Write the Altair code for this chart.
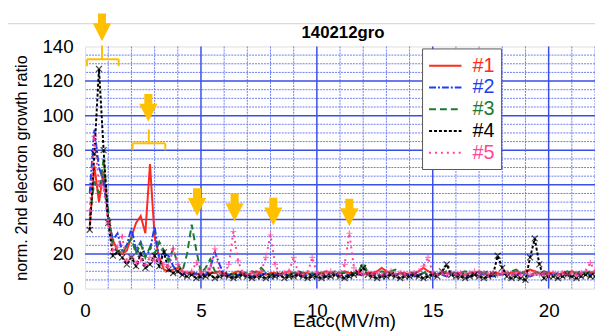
import altair as alt
import pandas as pd

# ---------------- data ----------------
EACC = [0.2, 0.4, 0.6, 0.8, 1.0, 1.2, 1.4, 1.6, 1.8, 2.0,
        2.2, 2.4, 2.6, 2.8, 3.0, 3.2, 3.4, 3.6, 3.8, 4.0,
        4.2, 4.4, 4.6, 4.8, 5.0, 5.2, 5.4, 5.6, 5.8, 6.0,
        6.2, 6.4, 6.6, 6.8, 7.0, 7.2, 7.4, 7.6, 7.8, 8.0,
        8.2, 8.4, 8.6, 8.8, 9.0, 9.2, 9.4, 9.6, 9.8, 10.0,
        10.2, 10.4, 10.6, 10.8, 11.0, 11.2, 11.4, 11.6, 11.8, 12.0,
        12.2, 12.4, 12.6, 12.8, 13.0, 13.2, 13.4, 13.6, 13.8, 14.0,
        14.2, 14.4, 14.6, 14.8, 15.0, 15.2, 15.4, 15.6, 15.8, 16.0,
        16.2, 16.4, 16.6, 16.8, 17.0, 17.2, 17.4, 17.6, 17.8, 18.0,
        18.2, 18.4, 18.6, 18.8, 19.0, 19.2, 19.4, 19.6, 19.8, 20.0,
        20.2, 20.4, 20.6, 20.8, 21.0, 21.2, 21.4, 21.6, 21.8, 22.0]

S1 = [36, 71, 50, 68, 40, 28, 22, 20, 22, 30,
      38, 42, 32, 72, 30, 18, 11, 10, 11, 12,
      10, 9, 9, 8, 9, 8, 9, 9, 10, 9,
      8, 9, 10, 9, 8, 9, 10, 9, 8, 9,
      9, 8, 9, 10, 9, 8, 9, 9, 8, 9,
      9, 10, 9, 8, 9, 10, 9, 9, 10, 8,
      9, 9, 10, 12, 10, 9, 8, 9, 9, 8,
      9, 10, 12, 10, 9, 8, 9, 9, 8, 9,
      9, 8, 9, 9, 10, 9, 8, 9, 9, 8,
      9, 9, 10, 9, 10, 11, 10, 9, 8, 9,
      9, 8, 9, 9, 10, 9, 8, 9, 9, 10]

S2 = [55, 92, 70, 62, 40, 28, 32, 22, 25, 35,
      22, 27, 19, 22, 36, 17, 20, 19, 13, 10,
      8, 9, 8, 9, 7, 8, 12, 21, 14, 8,
      8, 7, 8, 9, 8, 7, 8, 8, 9, 8,
      8, 7, 8, 8, 9, 8, 7, 8, 8, 9,
      8, 7, 9, 8, 8, 7, 8, 9, 8, 8,
      9, 8, 8, 7, 9, 8, 8, 9, 8, 8,
      7, 8, 9, 8, 8, 9, 8, 7, 8, 9,
      8, 8, 7, 8, 9, 8, 8, 7, 8, 8,
      9, 8, 8, 9, 8, 7, 8, 8, 9, 8,
      8, 9, 8, 8, 7, 8, 9, 8, 8, 9]

S3 = [42, 62, 55, 75, 45, 24, 22, 20, 25, 29,
      20, 26, 18, 24, 20, 27, 22, 16, 23, 14,
      10, 20, 37, 22, 9, 12, 17, 10, 9, 8,
      9, 8, 9, 8, 9, 10, 9, 12, 9, 8,
      9, 8, 9, 8, 9, 10, 9, 8, 9, 8,
      9, 8, 9, 10, 9, 9, 8, 9, 10, 15,
      9, 8, 9, 10, 9, 10, 11, 9, 8, 9,
      9, 8, 9, 10, 9, 8, 9, 10, 9, 8,
      9, 10, 9, 8, 9, 9, 10, 9, 8, 9,
      9, 10, 11, 9, 9, 8, 9, 9, 10, 9,
      9, 8, 9, 10, 9, 9, 10, 9, 10, 9]

S4 = [34, 78, 127, 80, 38, 19, 21, 18, 14, 18,
      13, 20, 12, 14, 19, 13, 21, 11, 9, 10,
      8, 7, 8, 6, 7, 7, 8, 6, 7, 8,
      7, 6, 7, 8, 7, 6, 7, 7, 6, 7,
      7, 8, 6, 7, 7, 8, 7, 6, 7, 7,
      6, 7, 7, 8, 7, 6, 7, 8, 9, 12,
      8, 7, 6, 7, 7, 8, 7, 6, 7, 7,
      8, 7, 6, 7, 8, 7, 10, 14, 8, 7,
      7, 6, 7, 8, 7, 6, 7, 8, 19, 12,
      7, 6, 7, 6, 5, 18, 29, 14, 6, 7,
      7, 6, 7, 8, 7, 6, 7, 8, 7, 7]

S5 = [45, 88, 60, 58, 38, 22, 24, 30, 16, 19,
      15, 17, 14, 18, 16, 17, 14, 13, 23, 14,
      10, 9, 10, 15, 9, 10, 12, 23, 9, 8,
      14, 33, 16, 9, 8, 9, 8, 10, 18, 31,
      14, 8, 9, 10, 18, 9, 8, 9, 18, 9,
      8, 9, 10, 9, 8, 14, 32, 12, 9, 8,
      9, 8, 9, 8, 9, 10, 8, 9, 8, 9,
      9, 10, 13, 18, 9, 8, 9, 8, 9, 8,
      9, 8, 9, 10, 8, 9, 8, 9, 8, 9,
      9, 8, 9, 8, 9, 8, 9, 8, 9, 8,
      9, 8, 9, 8, 9, 8, 9, 10, 15, 10]

SERIES = ["#1", "#2", "#3", "#4", "#5"]
COLORS = ["#FF2A1A", "#2040F0", "#1E7A30", "#000000", "#FF4499"]
DASHES = [[1, 0], [7, 2, 2, 2], [7, 4], [3, 2], [2, 4]]

X_TICKS = [0, 5, 10, 15, 20]
Y_TICKS = [0, 20, 40, 60, 80, 100, 120, 140]
GRID_X_MINOR = [1, 2, 3, 4, 6, 7, 8, 9, 11, 12, 13, 14, 16, 17, 18, 19, 21, 22]
GRID_X_MAJOR = [5, 10, 15, 20]
GRID_Y_MINOR = [5, 10, 15, 25, 30, 35, 45, 50, 55, 65, 70, 75, 85, 90, 95,
                105, 110, 115, 125, 130, 135]
GRID_Y_MAJOR = [20, 40, 60, 80, 100, 120]

TITLE = "140212gro"

# annotation arrows (x, y centre in data units)
ARROW_X = [0.73, 2.73, 4.83, 6.45, 8.12, 11.4]
ARROW_Y = [151, 104.5, 50, 47, 44.5, 44]

# brackets
BR_X1 = [0.08, 2.05]
BR_X2 = [1.45, 3.46]
BR_Y = [132.6, 84.0]
BR_TICK_X = [0.08, 1.45, 2.05, 3.46, 0.73, 2.75]
BR_TICK_Y = [132.6, 132.6, 84.0, 84.0, 132.6, 84.0]
BR_TICK_Y2 = [128.6, 128.6, 80.0, 80.0, 140.6, 92.0]

FONT = "Liberation Sans"
MAJOR = "#3A4FE6"
MINOR = "#6C7EF2"
YELLOW = "#FFC000"

# ---------------- build ----------------
rows = []
for name, vals in zip(SERIES, [S1, S2, S3, S4, S5]):
    for x, y in zip(EACC, vals):
        rows.append({"eacc": x, "ratio": y, "series": name})
df = pd.DataFrame(rows)

XS = alt.Scale(domain=[0, 22], nice=False, zero=False)
YS = alt.Scale(domain=[0, 140], nice=False)

XAX = alt.Axis(
    values=X_TICKS, title="Eacc(MV/m)", grid=False, domain=False, ticks=False,
    labelFontSize=19, labelFont=FONT, labelPadding=13, labelFlush=False,
    labelColor="black", titleFontSize=19, titleFont=FONT,
    titleFontWeight="normal", titleColor="black", titleY=38, titleX=262,
    titleBaseline="alphabetic")
YAX = alt.Axis(
    values=Y_TICKS, title="norm. 2nd electron growth ratio", grid=False,
    domain=False, ticks=False, labelFontSize=19, labelFont=FONT,
    labelPadding=12, labelColor="black", titleFontSize=16.5, titleFont=FONT,
    titleFontWeight="normal", titleColor="black", titlePadding=13)

label_color_expr = (
    "datum.value == '#1' ? '#FF2A1A' : datum.value == '#2' ? '#2040F0' : "
    "datum.value == '#3' ? '#1E7A30' : datum.value == '#4' ? '#000000' : '#FF4499'"
)

def make_legend():
    return alt.Legend(
        title=None, orient="none", legendX=341, legendY=2,
        fillColor="white", strokeColor="#555555", padding=6,
        symbolType="M-1.6,0L1.6,0", symbolSize=420, symbolStrokeWidth=2,
        symbolOffset=6,
        labelFontSize=20, labelFont=FONT, labelOffset=16, rowPadding=0,
        labelColor={"expr": label_color_expr},
    )

def xenc(f):
    return alt.X(f, scale=XS, axis=XAX, title="Eacc(MV/m)")

def yenc(f):
    return alt.Y(f, scale=YS, axis=YAX, title="norm. 2nd electron growth ratio")

gx_minor = alt.Chart(pd.DataFrame({"v": GRID_X_MINOR})).mark_rule(
    color=MINOR, strokeWidth=1, strokeDash=[2, 1]
).encode(x=xenc("v:Q"))
gx_major = alt.Chart(pd.DataFrame({"v": GRID_X_MAJOR})).mark_rule(
    color=MAJOR, strokeWidth=1.5
).encode(x=xenc("v:Q"))
gy_minor = alt.Chart(pd.DataFrame({"v": GRID_Y_MINOR})).mark_rule(
    color=MINOR, strokeWidth=1, strokeDash=[2, 1]
).encode(y=yenc("v:Q"))
gy_major = alt.Chart(pd.DataFrame({"v": GRID_Y_MAJOR})).mark_rule(
    color=MAJOR, strokeWidth=1.5
).encode(y=yenc("v:Q"))

lines = alt.Chart(df).mark_line(strokeWidth=2).encode(
    x=xenc("eacc:Q"),
    y=yenc("ratio:Q"),
    color=alt.Color("series:N", scale=alt.Scale(domain=SERIES, range=COLORS),
                    legend=make_legend()),
    strokeDash=alt.StrokeDash("series:N", scale=alt.Scale(domain=SERIES, range=DASHES),
                              legend=make_legend()),
    detail="series:N",
)

markers = alt.Chart(df).transform_filter(
    alt.FieldOneOfPredicate(field="series", oneOf=["#4", "#5"])
).mark_point(filled=False, size=36, strokeWidth=1.2).encode(
    x=xenc("eacc:Q"),
    y=yenc("ratio:Q"),
    color=alt.Color("series:N", scale=alt.Scale(domain=SERIES, range=COLORS), legend=None),
    shape=alt.Shape("series:N", scale=alt.Scale(
        domain=["#4", "#5"],
        range=["M-1,-1L1,1M-1,1L1,-1", "M-1,0L1,0M0,-1L0,1"]), legend=None),
)

arrows = alt.Chart(pd.DataFrame({"x": ARROW_X, "y": ARROW_Y})).mark_point(
    filled=True, color=YELLOW, opacity=1, size=784, strokeWidth=0,
    shape="M-0.29,-1L0.29,-1L0.29,-0.3L0.66,-0.3L0,1L-0.66,-0.3L-0.29,-0.3Z",
).encode(x=xenc("x:Q"), y=yenc("y:Q"))

br_h = alt.Chart(pd.DataFrame({"x": BR_X1, "x2": BR_X2, "y": BR_Y})).mark_rule(
    color=YELLOW, strokeWidth=2
).encode(x=xenc("x:Q"), x2="x2:Q", y=yenc("y:Q"))
br_v = alt.Chart(pd.DataFrame({"x": BR_TICK_X, "y": BR_TICK_Y, "y2": BR_TICK_Y2})).mark_rule(
    color=YELLOW, strokeWidth=2
).encode(x=xenc("x:Q"), y=yenc("y:Q"), y2="y2:Q")

top_line = alt.Chart(pd.DataFrame({"a": [0]})).mark_rule(
    color="#D0D0D0", strokeWidth=1
).encode(x=alt.value(-86), x2=alt.value(520), y=alt.value(-23))

title_text = alt.Chart(pd.DataFrame({"t": [TITLE]})).mark_text(
    font=FONT, fontSize=17, fontWeight="bold", color="black",
    align="center", baseline="alphabetic"
).encode(text="t:N", x=alt.value(261), y=alt.value(-9))

chart = alt.layer(
    gx_minor, gy_minor, gx_major, gy_major, top_line, lines, markers, br_h, br_v,
    arrows, title_text
).properties(
    width=516, height=245,
    autosize=alt.AutoSizeParams(type="none"),
    padding={"left": 78, "top": 37, "right": 0, "bottom": 42},
).configure_view(stroke=MAJOR, strokeWidth=2).configure(background="white")

chart.save("out.html", embed_options={"renderer": "svg", "actions": False})
